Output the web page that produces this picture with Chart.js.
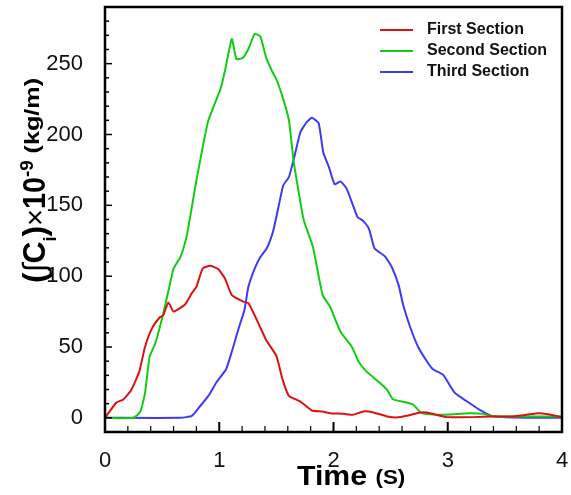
<!DOCTYPE html>
<html>
<head>
<meta charset="utf-8">
<script src="https://cdn.jsdelivr.net/npm/chart.js@4/dist/chart.umd.min.js"></script>
<style>
  body { margin: 0; background: #fff; }
  #wrap { width: 571px; height: 495px; position: relative; }
</style>
</head>
<body>
<div id="wrap"><canvas id="chart"></canvas></div>
<script>
// series names
const seriesNames = ["First Section", "Second Section", "Third Section"];
const seriesColors = ["#dd1111", "#11cc11", "#3b3bf5"];

// First Section (red)
const firstX = [0, 0.10, 0.16, 0.23, 0.30, 0.35, 0.41, 0.48, 0.51, 0.555, 0.60, 0.70, 0.76, 0.80, 0.855, 0.92, 0.99, 1.05, 1.11, 1.21, 1.255, 1.33, 1.41, 1.50, 1.555, 1.61, 1.71, 1.81, 1.90, 1.97, 2.09, 2.17, 2.26, 2.35, 2.47, 2.55, 2.64, 2.76, 2.82, 2.90, 2.99, 3.22, 3.40, 3.57, 3.69, 3.79, 3.88, 3.97, 4.0];
const firstY = [0, 10.8, 13, 19.7, 32.6, 50, 63, 71, 72.5, 81.5, 75, 80, 88, 92.5, 105.4, 107.3, 105, 98.4, 86.6, 82, 81, 69, 55, 43.7, 26.8, 15.5, 11.5, 5.2, 4.5, 3.3, 2.8, 2.1, 4.5, 3.8, 1, 0.2, 1.4, 3.8, 3.8, 2.1, 0.5, 0.5, 1, 1, 2.1, 3.3, 2.6, 1, 0.5];

// Second Section (green)
const secondX = [0, 0.25, 0.31, 0.35, 0.39, 0.44, 0.51, 0.57, 0.60, 0.66, 0.71, 0.74, 0.80, 0.855, 0.905, 1.01, 1.05, 1.11, 1.15, 1.205, 1.255, 1.31, 1.36, 1.41, 1.46, 1.50, 1.56, 1.61, 1.65, 1.71, 1.74, 1.82, 1.905, 1.97, 2.06, 2.16, 2.22, 2.29, 2.41, 2.47, 2.52, 2.64, 2.70, 2.77, 2.93, 3.19, 3.31, 3.40, 3.72, 4.0];
const secondY = [0, 0, 4.5, 17.4, 43, 52.6, 73.7, 95, 105.4, 113.6, 126.5, 139.4, 167.6, 191, 210, 232, 245, 267.4, 253.3, 254, 260.4, 271, 269.2, 254.4, 245, 239, 225, 210, 181.7, 152.3, 139.4, 120.6, 86.6, 78.4, 61, 50.2, 39.6, 32.6, 24.4, 19.7, 13.1, 10.8, 9.2, 3.3, 2.1, 3.3, 2.8, 1, 1, 1];

// Third Section (blue)
const thirdX = [0, 0.66, 0.76, 0.83, 0.905, 0.98, 1.06, 1.11, 1.17, 1.22, 1.255, 1.31, 1.36, 1.415, 1.47, 1.50, 1.56, 1.61, 1.66, 1.71, 1.765, 1.81, 1.87, 1.91, 1.96, 2.01, 2.06, 2.115, 2.21, 2.26, 2.31, 2.36, 2.45, 2.51, 2.57, 2.61, 2.67, 2.74, 2.82, 2.87, 2.96, 3.06, 3.17, 3.28, 3.385, 3.57, 4.0];
const thirdY = [0, 0, 1.4, 8, 15.5, 25.6, 34.3, 46.7, 63.2, 76, 92.5, 105.4, 113.6, 119.5, 131.2, 141.8, 164, 170, 185.2, 201.6, 208.7, 211.8, 208, 187.5, 177, 164.8, 166.9, 161.8, 141.8, 139, 133.6, 119.5, 114, 106.5, 93.7, 79.6, 64.3, 50.2, 39.6, 34.3, 30.3, 17.8, 11.5, 5.6, 1.4, 0.2, 0];

// axis ticks
const xTicks = [0, 1, 2, 3, 4];
const yTicks = [0, 50, 100, 150, 200, 250];

const FONT = "'Liberation Sans', Arial, sans-serif";

function toPoints(xs, ys) {
    return xs.map((x, i) => ({ x: x, y: ys[i] }));
}

// frame, inner ticks, legend and axis titles
const decorations = {
    id: "decorations",
    afterDraw(chart) {
        const ctx = chart.ctx;
        const a = chart.chartArea;
        const xs = chart.scales.x;
        const ys = chart.scales.y;
        ctx.save();
        ctx.strokeStyle = "#000";

        // y ticks (inside)
        ctx.lineWidth = 1.5;
        for (let v = -10; v <= 290; v += 10) {
            const py = ys.getPixelForValue(v);
            const len = v % 50 === 0 ? 7 : 4;
            ctx.beginPath();
            ctx.moveTo(a.left, py);
            ctx.lineTo(a.left + len, py);
            ctx.stroke();
        }
        // x ticks (inside)
        for (let i = 1; i < 20; i++) {
            const px = xs.getPixelForValue(i * 0.2);
            const len = i % 5 === 0 ? 10 : 6;
            ctx.lineWidth = i % 5 === 0 ? 2 : 1.2;
            ctx.beginPath();
            ctx.moveTo(px, a.bottom);
            ctx.lineTo(px, a.bottom - len);
            ctx.stroke();
        }

        // frame
        ctx.lineWidth = 2.5;
        ctx.strokeRect(a.left, a.top, a.right - a.left, a.bottom - a.top);

        // legend
        ctx.font = "bold 16px " + FONT;
        ctx.textBaseline = "middle";
        ctx.textAlign = "left";
        chart.data.datasets.forEach((ds, i) => {
            const ry = 30 + i * 21;
            ctx.strokeStyle = ds.borderColor;
            ctx.lineWidth = 2;
            ctx.beginPath();
            ctx.moveTo(380, ry);
            ctx.lineTo(413, ry);
            ctx.stroke();
            ctx.fillStyle = "#111";
            ctx.fillText(ds.label, 427, ry);
        });

        // x axis title
        ctx.fillStyle = "#000";
        ctx.textBaseline = "alphabetic";
        ctx.save();
        ctx.translate(297, 485);
        ctx.scale(1.12, 1);
        ctx.font = "bold 27px " + FONT;
        ctx.fillText("Time", 0, 0);
        const tw = ctx.measureText("Time ").width;
        ctx.font = "bold 20px " + FONT;
        ctx.fillText("(S)", tw, -1);
        ctx.restore();

        // y axis title, rotated
        ctx.save();
        ctx.translate(45, 283);
        ctx.rotate(-Math.PI / 2);
        const pieces = [
            ["(", "bold 32px", 0, 1],
            ["\u222B", "32px", 0, 1],
            ["C", "bold 32px", 0, 0.95],
            ["i", "bold 18px", 11, 1],
            [")", "bold 32px", 0, 1],
            ["\u00D7", "29px", 0, 1],
            ["10", "bold 32px", 0, 0.9],
            ["-9", "bold 19px", -12, 1],
            [" ", "bold 24px", 0, 1],
            ["(kg/m)", "bold 21px", -6, 1.2]
        ];
        let u = 0;
        pieces.forEach(p => {
            ctx.font = p[1] + " " + FONT;
            ctx.save();
            ctx.translate(u, p[2]);
            ctx.scale(p[3], 1);
            ctx.fillText(p[0], 0, 0);
            ctx.restore();
            u += ctx.measureText(p[0]).width * p[3];
        });
        ctx.restore();

        ctx.restore();
    }
};

const ctx = document.getElementById("chart").getContext("2d");
const chart = new Chart(ctx, {
    type: "line",
    data: {
        datasets: [
            { label: seriesNames[0], data: toPoints(firstX, firstY), borderColor: seriesColors[0] },
            { label: seriesNames[1], data: toPoints(secondX, secondY), borderColor: seriesColors[1] },
            { label: seriesNames[2], data: toPoints(thirdX, thirdY), borderColor: seriesColors[2] }
        ]
    },
    options: {
        responsive: true,
        maintainAspectRatio: false,
        animation: false,
        events: [],
        layout: { padding: { left: 0, right: 9, top: 7, bottom: 0 } },
        elements: {
            point: { radius: 0 },
            line: { borderWidth: 2, tension: 0.15, fill: false }
        },
        plugins: {
            legend: { display: false },
            tooltip: { enabled: false }
        },
        scales: {
            x: {
                type: "linear",
                min: 0,
                max: 4,
                grid: { display: false },
                border: { display: false },
                afterBuildTicks: s => { s.ticks = xTicks.map(v => ({ value: v })); },
                afterFit: s => { s.height = 63; s.paddingLeft = 0; s.paddingRight = 0; },
                ticks: {
                    padding: 8,
                    maxRotation: 0,
                    color: "#111",
                    font: { family: FONT, size: 22 },
                    callback: v => String(v)
                }
            },
            y: {
                min: -10,
                max: 290,
                grid: { display: false },
                border: { display: false },
                afterBuildTicks: s => { s.ticks = yTicks.map(v => ({ value: v })); },
                afterFit: s => { s.width = 105; s.paddingTop = 0; s.paddingBottom = 0; },
                ticks: {
                    padding: 14,
                    color: "#111",
                    font: { family: FONT, size: 22 },
                    callback: v => String(v)
                }
            }
        }
    },
    plugins: [decorations]
});
</script>
</body>
</html>
